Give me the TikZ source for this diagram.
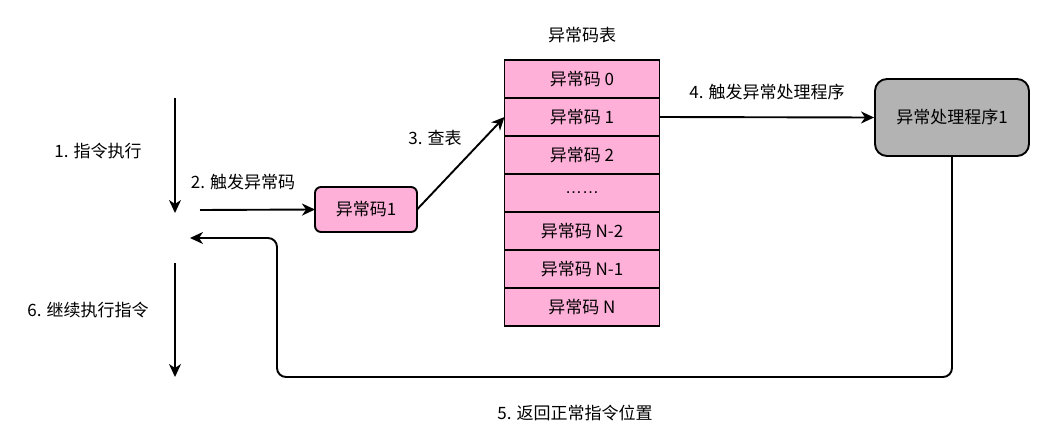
\documentclass[tikz,border=0pt]{standalone}
\usepackage{fontspec}
\setmainfont{Noto Sans CJK SC}
\newfontfamily\dotsfont{Liberation Sans}
\usepackage{xcolor}
\usetikzlibrary{arrows.meta,positioning,calc}
\definecolor{codepink}{HTML}{FFB0D9}
\definecolor{handgray}{HTML}{B3B3B3}
\tikzset{
  cell/.style={draw=black, line width=1.9pt, fill=codepink,
    minimum width=155pt, minimum height=38pt, inner sep=0pt, outer sep=0pt,
    font=\fontsize{17}{20}\selectfont},
  codebox/.style={cell, rounded corners=6pt, minimum width=102pt, minimum height=45pt},
  handbox/.style={draw=black, line width=1.9pt, fill=handgray, rounded corners=12pt,
    minimum width=154pt, minimum height=77pt, inner sep=0pt,
    font=\fontsize{17}{20}\selectfont},
  lbl/.style={font=\fontsize{17}{20}\selectfont},
  flow/.style={-{Stealth[length=13pt, width=12pt, inset=4pt]}, line width=1.9pt}
}

\begin{document}
\begin{tikzpicture}[x=1pt, y=-1pt]
  \useasboundingbox (0,0) rectangle (1063,442);

  % instruction stream
  \coordinate (exectop) at (175,98);
  \coordinate (execend) at (175,213);
  \coordinate (trigstart) at (200,210);
  \coordinate (retend) at (190,238);
  \coordinate (conttop) at (175,263);
  \coordinate (contend) at (175,377);
  \draw[flow] (exectop) -- (execend);
  \draw[flow] (conttop) -- (contend);
  \node[lbl] (step1) at (98,151) {1. 指令执行};
  \node[lbl] (step6) at (88,310) {6. 继续执行指令};

  % exception code
  \node[codebox] (code) at (366,209.5) {异常码1};
  \draw[flow] (trigstart) -- (code.west);
  \node[lbl] (step2) at (243,182) {2. 触发异常码};

  % exception code table
  \node[lbl] (title) at (582,35) {异常码表};
  \foreach \i/\lab in {0/{异常码 0}, 1/{异常码 1}, 2/{异常码 2}, 3/{{\dotsfont ……}},
                       4/{异常码 N-2}, 5/{异常码 N-1}, 6/{异常码 N}}{
    \node[cell] (r\i) at (582,{79+38*\i}) {\lab};
  }
  \draw[flow] (code.east) -- (r1.west);
  \node[lbl] (step3) at (435,138) {3. 查表};

  % handler
  \node[handbox] (handler) at (952,117.5) {异常处理程序1};
  \draw[flow] (r1.east) -- (handler.west);
  \node[lbl] (step4) at (767,92) {4. 触发异常处理程序};

  % return path
  \draw[flow, rounded corners=9pt] (handler.south) -- (handler.south |- 0,377)
    -- (277,377) -- (277,238) -- (retend);
  \node[lbl] (step5) at (575,413) {5. 返回正常指令位置};
\end{tikzpicture}
\end{document}
